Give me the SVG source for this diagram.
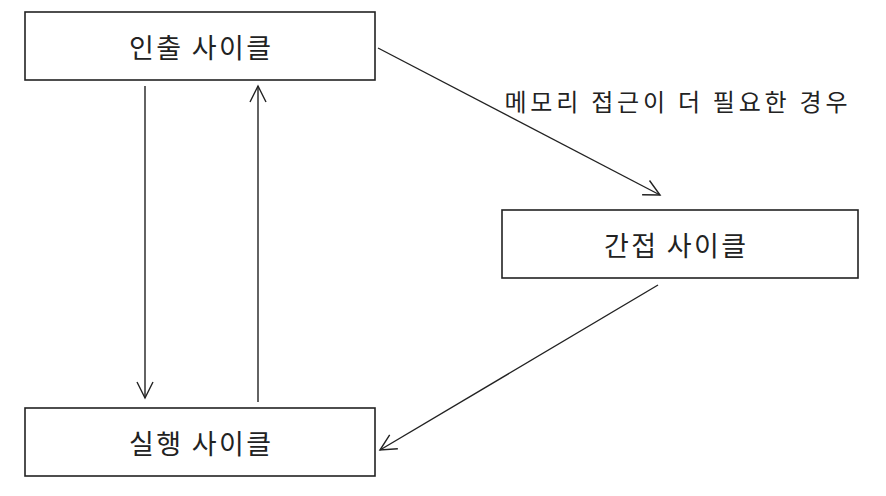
<svg xmlns="http://www.w3.org/2000/svg" width="886" height="496" viewBox="0 0 886 496">
<style>
.box{fill:#fff;stroke:#222;stroke-width:1.6}
.t{font-family:"Noto Sans CJK KR","Noto Sans",sans-serif;font-size:27px;fill:#222;text-anchor:middle;dominant-baseline:central}
.l{font-size:24px}
.c{stroke:#222;stroke-width:1.4;fill:none;marker-end:url(#ah)}
</style>
<defs>
<marker id="ah" viewBox="0 0 20 20" refX="18" refY="10" markerWidth="20" markerHeight="20" markerUnits="userSpaceOnUse" orient="auto">
<path d="M2,2 L18,10 L2,18" fill="none" stroke="#222" stroke-width="1.4"/>
</marker>
</defs>
<rect width="886" height="496" fill="#fff"/>
<g id="fetch"><rect class="box" x="25" y="12" width="350" height="68"/><text class="t" x="200" y="46" textLength="142">인출 사이클</text></g>
<g id="indirect"><rect class="box" x="502" y="210" width="356" height="68"/><text class="t" x="675" y="244" textLength="142">간접 사이클</text></g>
<g id="execute"><rect class="box" x="25" y="408" width="350" height="68"/><text class="t" x="200" y="442" textLength="142">실행 사이클</text></g>
<g id="connectors">
<line class="c" x1="378" y1="48" x2="660" y2="195"/>
<line class="c" x1="145" y1="86" x2="145" y2="398"/>
<line class="c" x1="258" y1="402" x2="258" y2="86"/>
<line class="c" x1="658" y1="285" x2="380" y2="450"/>
<text class="t l" x="676" y="100" textLength="343">메모리 접근이 더 필요한 경우</text>
</g>
</svg>
